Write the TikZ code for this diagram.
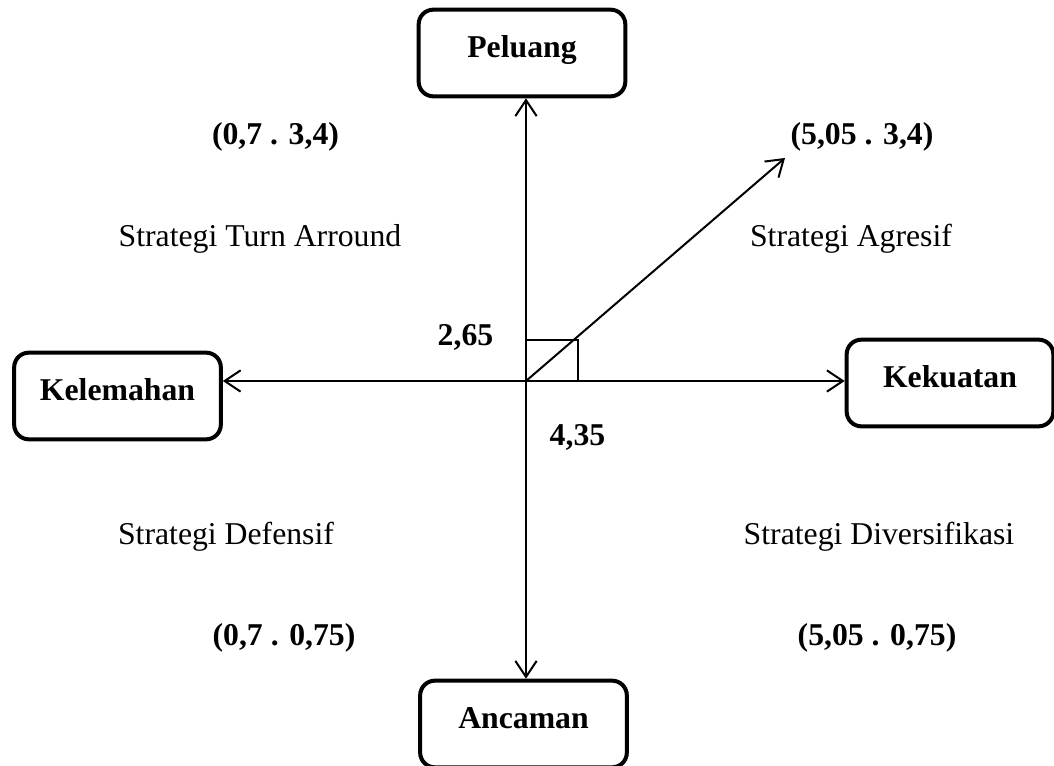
\documentclass[tikz,border=0pt]{standalone}
\usepackage{fontspec}
\setmainfont{Liberation Serif}
\usetikzlibrary{arrows.meta}
\begin{document}
\begin{tikzpicture}[x=0.75pt,y=-0.75pt,
 box/.style={draw,line width=3pt,rounded corners=11pt,minimum width=155pt,minimum height=65pt,font=\fontsize{23.8}{28}\selectfont\bfseries,text height=16pt,text depth=9pt,inner sep=0pt},
 axis/.style={line width=1.5pt,-{Straight Barb[length=12pt,width=16pt,line width=1.5pt]}},
 lbl/.style={font=\fontsize{23.8}{28}\selectfont,inner sep=0pt},
 val/.style={font=\fontsize{23.8}{28}\selectfont\bfseries,inner sep=0pt}]
\useasboundingbox (0,0) rectangle (1054,766);
\coordinate (O) at (526,381);
\node[box] (pel) at (522,53) {Peluang};
\node[box] (kel) at (117.5,396) {Kelemahan};
\node[box] (kek) at (950,383) {Kekuatan};
\node[box] (anc) at (523.5,724) {Ancaman};
\draw[axis] (O) -- (O |- pel.south);
\draw[axis] (O) -- (O |- anc.north);
\draw[axis] (O) -- (O -| kel.east);
\draw[axis] (O) -- (O -| kek.west);
\coordinate (tip) at (785,158);
\draw[axis] (O) -- (tip);
\coordinate (rc) at (578,340);
\draw[line width=1pt] (O) rectangle (rc);
\node[val] (q1) at (275.5,137) {(0,7 . 3,4)};
\node[val] (q2) at (862,137) {(5,05 . 3,4)};
\node[lbl] (s1) at (260,239) {Strategi Turn Arround};
\node[lbl] (s2) at (851,239) {Strategi Agresif};
\node[val] (v1) at (465.5,337) {2,65};
\node[val] (v2) at (577.5,437) {4,35};
\node[lbl] (s3) at (226,537) {Strategi Defensif};
\node[lbl] (s4) at (879,537) {Strategi Diversifikasi};
\node[val] (q3) at (284,638) {(0,7 . 0,75)};
\node[val] (q4) at (877,638) {(5,05 . 0,75)};
\end{tikzpicture}
\end{document}
